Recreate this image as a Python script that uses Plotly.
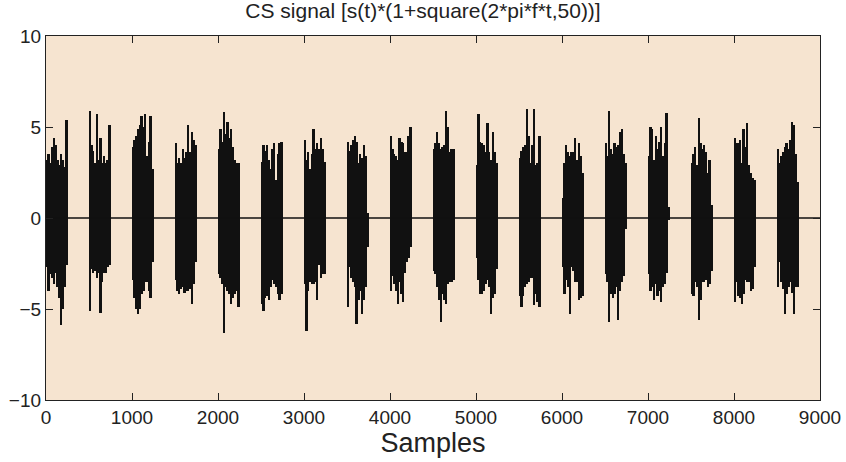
import plotly.graph_objects as go

# ---- data ----
signal_length = 9000
burst_len = 250
burst_start = [0, 500, 1000, 1500, 2000, 2500, 3000, 3500, 4000,
               4500, 5000, 5500, 6000, 6500, 7000, 7500, 8000, 8500]

# upper envelope (12 evenly spaced strokes per burst)
burst_top = [
    [3.2, 3.5, 3.0, 3.9, 4.4, 4.0, 3.2, 2.9, 3.5, 3.2, 2.8, 5.4],
    [5.9, 4.0, 3.7, 3.0, 5.7, 3.2, 4.4, 3.0, 3.4, 3.0, 3.2, 5.1],
    [3.9, 4.3, 4.5, 4.9, 5.1, 5.6, 5.0, 5.7, 3.4, 4.2, 5.6, 2.7],
    [4.1, 3.0, 3.3, 3.0, 3.8, 3.3, 3.6, 5.1, 3.6, 4.7, 4.3, 4.0],
    [3.8, 4.9, 4.2, 5.85, 4.6, 5.3, 4.4, 4.9, 3.9, 3.2, 3.0, 3.0],
    [3.1, 4.0, 3.7, 4.0, 3.2, 2.7, 3.8, 4.1, 2.1, 3.5, 4.1, 4.2],
    [4.3, 3.2, 3.6, 2.7, 3.5, 4.9, 3.8, 4.1, 3.8, 4.4, 3.8, 3.1],
    [4.2, 3.7, 4.0, 4.3, 4.5, 4.2, 3.0, 3.5, 3.3, 4.0, 3.4, 0.3],
    [4.5, 3.8, 3.5, 3.4, 3.2, 4.4, 4.2, 4.1, 3.6, 3.6, 4.5, 5.0],
    [3.8, 4.1, 4.7, 4.1, 3.8, 3.9, 4.0, 5.9, 5.0, 3.6, 3.8, 3.8],
    [2.9, 5.7, 4.2, 4.1, 4.0, 3.6, 5.2, 3.6, 3.2, 4.7, 3.6, 3.0],
    [3.3, 3.7, 3.9, 4.0, 6.0, 4.5, 3.0, 4.0, 6.0, 2.9, 3.0, 4.5],
    [1.1, 3.0, 4.0, 3.6, 3.4, 3.6, 3.6, 4.4, 3.2, 4.1, 3.4, 2.5],
    [4.1, 3.4, 5.9, 3.8, 3.5, 4.1, 3.9, 4.0, 4.7, 4.9, 3.5, 3.0],
    [3.4, 5.0, 4.9, 3.2, 4.5, 3.8, 4.2, 5.0, 3.4, 4.1, 5.75, 0.6],
    [3.0, 3.5, 3.9, 2.9, 5.5, 4.1, 3.8, 4.0, 3.6, 2.5, 3.2, 0.7],
    [4.4, 4.1, 4.1, 4.3, 3.0, 4.9, 3.9, 5.2, 2.9, 2.5, 2.2, 2.1],
    [3.8, 3.0, 3.4, 3.6, 3.9, 4.1, 3.8, 4.3, 5.3, 5.1, 3.5, 2.0],
]

# lower envelope
burst_bot = [
    [-2.7, -4.0, -3.1, -3.3, -3.6, -3.0, -3.8, -4.4, -5.9, -5.0, -3.8, -2.6],
    [-5.1, -2.8, -3.0, -2.9, -3.3, -3.0, -5.2, -3.5, -3.0, -3.0, -2.7, -2.6],
    [-3.4, -4.4, -5.0, -5.3, -5.0, -4.2, -4.0, -3.5, -3.5, -4.0, -4.4, -2.4],
    [-3.4, -4.0, -4.2, -3.9, -3.8, -4.1, -4.0, -4.0, -3.9, -4.7, -3.6, -2.4],
    [-3.1, -3.3, -3.6, -6.3, -3.8, -4.0, -4.2, -4.7, -4.4, -4.2, -4.0, -4.9],
    [-4.7, -5.1, -4.4, -4.3, -4.5, -3.8, -3.4, -3.6, -3.8, -4.2, -4.5, -4.2],
    [-3.6, -6.2, -4.0, -3.5, -3.6, -3.6, -3.5, -4.5, -2.6, -3.3, -3.1, -3.1],
    [-4.9, -2.7, -3.3, -3.5, -3.8, -5.8, -4.5, -4.0, -5.3, -4.5, -3.8, -1.6],
    [-4.0, -3.2, -3.6, -4.0, -4.7, -3.5, -4.2, -4.6, -3.0, -2.4, -2.2, -1.6],
    [-2.9, -3.1, -3.8, -4.5, -5.7, -4.2, -4.5, -4.7, -3.6, -3.5, -3.5, -3.4],
    [-2.2, -3.4, -4.2, -4.2, -4.0, -3.6, -3.4, -3.8, -5.3, -4.4, -4.2, -2.8],
    [-4.3, -4.9, -4.3, -3.8, -3.6, -3.5, -3.3, -3.3, -4.8, -4.2, -4.6, -4.9],
    [-2.7, -4.2, -3.4, -3.8, -5.3, -2.7, -2.9, -3.5, -3.5, -4.5, -4.4, -4.3],
    [-3.1, -3.5, -5.7, -4.2, -4.4, -4.2, -3.8, -5.6, -4.0, -3.5, -3.2, -0.6],
    [-3.1, -4.0, -3.8, -4.5, -3.6, -4.3, -4.0, -4.6, -3.8, -3.6, -3.0, -0.1],
    [-4.2, -4.3, -3.5, -3.8, -5.6, -4.5, -3.5, -3.5, -3.4, -3.8, -3.6, -2.9],
    [-4.6, -3.5, -4.3, -4.4, -4.7, -4.2, -3.4, -3.5, -3.5, -4.0, -3.9, -2.7],
    [-3.8, -2.4, -3.5, -3.9, -5.3, -4.2, -3.8, -3.5, -4.1, -5.3, -3.8, -3.8],
]

x_ticks = [0, 1000, 2000, 3000, 4000, 5000, 6000, 7000, 8000, 9000]
y_ticks = [-10, -5, 0, 5, 10]
title_text = "CS signal [s(t)*(1+square(2*pi*f*t,50))]"
x_label = "Samples"

# ---- build marks ----
bx, bbase, bheight = [], [], []
for s, tops, bots in zip(burst_start, burst_top, burst_bot):
    n = len(tops)
    step = burst_len / n
    for i in range(n):
        bx.append(s + (i + 0.5) * step)
        bbase.append(bots[i])
        bheight.append(tops[i] - bots[i])
bar_width = burst_len / len(burst_top[0])

fig = go.Figure()
fig.add_trace(go.Scatter(
    x=[0, signal_length], y=[0, 0], mode="lines",
    line=dict(color="#111111", width=1.3), hoverinfo="skip", showlegend=False))
fig.add_trace(go.Bar(
    x=bx, y=bheight, base=bbase, width=bar_width,
    marker=dict(color="#111111", line=dict(width=0)), showlegend=False))

font_family = "Liberation Sans, Arial, sans-serif"
fig.update_layout(
    width=846, height=462,
    margin=dict(l=46, r=26, t=36, b=62),
    paper_bgcolor="white",
    plot_bgcolor="#F6E4D0",
    bargap=0,
    font=dict(family=font_family, size=19, color="#222222"),
    title=dict(text=title_text, x=0.5, xanchor="center", y=0.992, yanchor="top",
               font=dict(family=font_family, size=21, color="#222222")),
)
axis_common = dict(showgrid=False, zeroline=False, showline=True, linecolor="#222222",
                   linewidth=1.3, mirror="ticks", ticks="inside", ticklen=7,
                   tickcolor="#222222", tickwidth=1.2, automargin=False)
fig.update_xaxes(range=[0, 9000], tickmode="array", tickvals=x_ticks,
                 title=dict(text=x_label, font=dict(size=27), standoff=2), **axis_common)
fig.update_yaxes(range=[-10, 10], tickmode="array", tickvals=y_ticks, **axis_common)

fig.write_html("out.html")
